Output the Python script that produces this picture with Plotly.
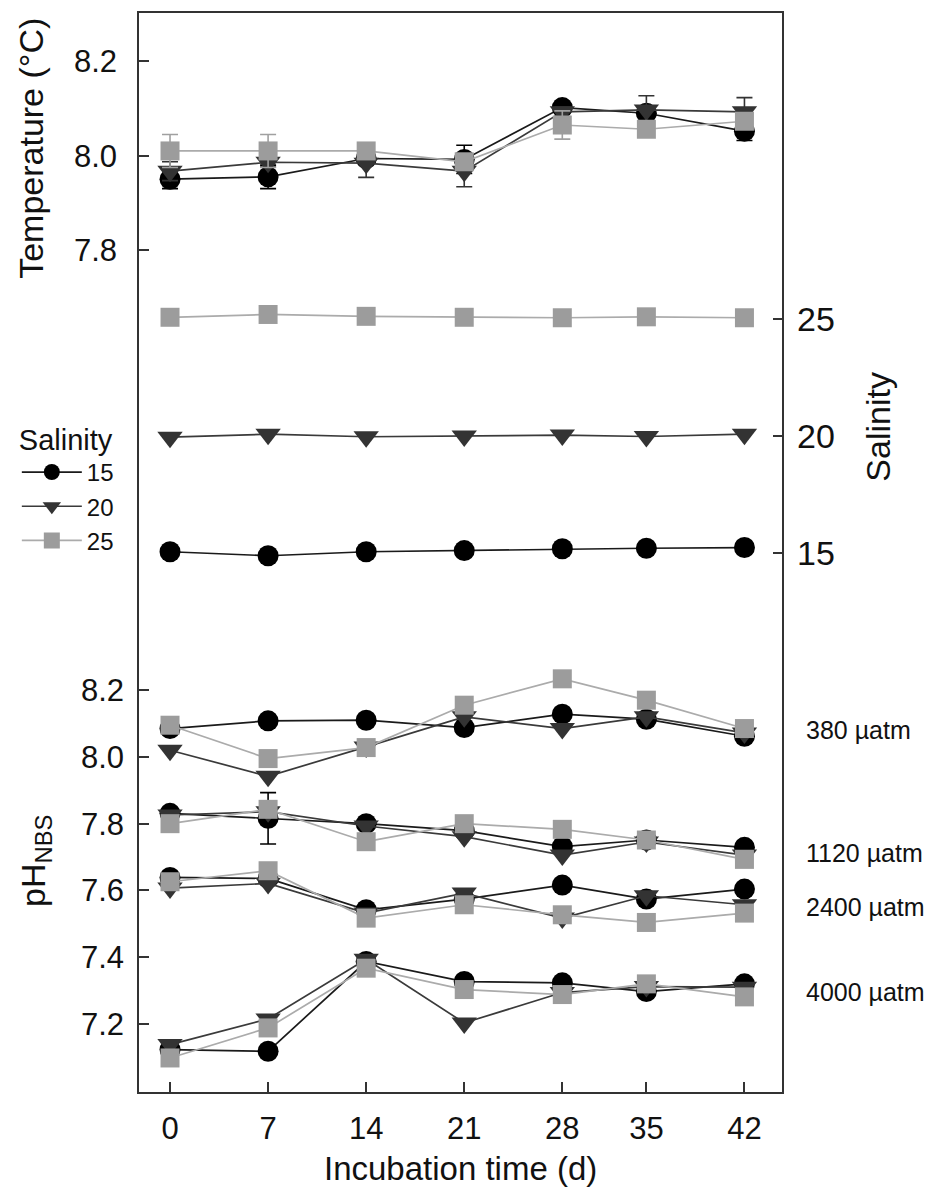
import plotly.graph_objects as go

# ---- data ----
days = [0, 7, 14, 21, 28, 34, 41]
day_labels = ["0", "7", "14", "21", "28", "35", "42"]
salinity_names = ["15", "20", "25"]

# Temperature (°C)
temp_15 = [7.950, 7.955, 7.994, 7.992, 8.102, 8.090, 8.052]
temp_20 = [7.967, 7.986, 7.984, 7.967, 8.093, 8.097, 8.093]
temp_25 = [8.010, 8.010, 8.010, 7.987, 8.065, 8.056, 8.073]
temp_err_15 = [0.020, 0.025, 0.010, 0.030, 0.010, 0.010, 0.020]
temp_err_20 = [0.020, 0.010, 0.030, 0.033, 0.010, 0.030, 0.030]
temp_err_25 = [0.035, 0.035, 0.010, 0.010, 0.030, 0.010, 0.010]

# Salinity
sal_15 = [15.05, 14.88, 15.05, 15.10, 15.18, 15.20, 15.23]
sal_20 = [19.95, 20.08, 19.97, 20.00, 20.04, 19.98, 20.08]
sal_25 = [25.08, 25.20, 25.12, 25.08, 25.06, 25.10, 25.06]

# pH (NBS) per pCO2 level
ph_380_15 = [8.085, 8.108, 8.110, 8.088, 8.128, 8.113, 8.062]
ph_380_20 = [8.020, 7.942, 8.030, 8.120, 8.085, 8.120, 8.072]
ph_380_25 = [8.095, 7.995, 8.028, 8.155, 8.234, 8.170, 8.085]
ph_1120_15 = [7.831, 7.816, 7.800, 7.779, 7.731, 7.751, 7.729]
ph_1120_20 = [7.826, 7.836, 7.793, 7.761, 7.706, 7.745, 7.706]
ph_1120_25 = [7.800, 7.843, 7.746, 7.800, 7.783, 7.751, 7.693]
ph_2400_15 = [7.639, 7.636, 7.542, 7.574, 7.616, 7.574, 7.604]
ph_2400_20 = [7.607, 7.621, 7.532, 7.592, 7.517, 7.584, 7.557]
ph_2400_25 = [7.626, 7.659, 7.517, 7.557, 7.527, 7.504, 7.532]
ph_4000_15 = [7.123, 7.118, 7.387, 7.327, 7.323, 7.297, 7.320]
ph_4000_20 = [7.138, 7.215, 7.394, 7.203, 7.294, 7.312, 7.310]
ph_4000_25 = [7.098, 7.188, 7.367, 7.303, 7.288, 7.320, 7.281]
ph_err_1120_15 = [0.0, 0.077, 0.0, 0.0, 0.0, 0.0, 0.0]

pco2_labels = ["380 µatm", "1120 µatm", "2400 µatm", "4000 µatm"]
pco2_label_ph = [8.08, 7.712, 7.551, 7.297]

temp_ticks = [7.8, 8.0, 8.2]
sal_ticks = [15, 20, 25]
ph_ticks = [7.2, 7.4, 7.6, 7.8, 8.0, 8.2]

# ---- styles ----
FONT = "Liberation Sans, Arial, sans-serif"
styles = {
    "15": dict(symbol="circle", size=21, mcolor="#000000", lcolor="#1a1a1a"),
    "20": dict(symbol="triangle-down", size=22, mcolor="#333333", lcolor="#3a3a3a"),
    "25": dict(symbol="square", size=19, mcolor="#9c9c9c", lcolor="#ababab"),
}

fig = go.Figure()


def add(y, sal, yaxis, err=None, legend=False):
    st = styles[sal]
    kw = {}
    if err is not None:
        kw["error_y"] = dict(type="data", array=err, visible=True,
                             color=st["mcolor"] if sal != "25" else "#a0a0a0",
                             thickness=1.6, width=8)
    fig.add_trace(go.Scatter(
        x=days, y=y, yaxis=yaxis, mode="lines+markers", name=sal,
        showlegend=legend, legendgroup=sal,
        line=dict(color=st["lcolor"], width=1.7),
        marker=dict(symbol=st["symbol"], size=st["size"], color=st["mcolor"],
                    line=dict(width=0)),
        **kw))


# temperature
add(temp_15, "15", "y", temp_err_15, legend=True)
add(temp_20, "20", "y", temp_err_20, legend=True)
add(temp_25, "25", "y", temp_err_25, legend=True)
# salinity
add(sal_15, "15", "y2")
add(sal_20, "20", "y2")
add(sal_25, "25", "y2")
# pH
for grp15, grp20, grp25, e15 in [
    (ph_380_15, ph_380_20, ph_380_25, None),
    (ph_1120_15, ph_1120_20, ph_1120_25, ph_err_1120_15),
    (ph_2400_15, ph_2400_20, ph_2400_25, None),
    (ph_4000_15, ph_4000_20, ph_4000_25, None),
]:
    add(grp15, "15", "y3", e15)
    add(grp20, "20", "y3")
    add(grp25, "25", "y3")

axcol = "#333333"
tickfont = dict(family=FONT, size=31, color="#111111")

fig.update_layout(
    width=948, height=1194,
    margin=dict(l=139, r=166, t=11, b=102),
    paper_bgcolor="white", plot_bgcolor="white",
    font=dict(family=FONT, color="#111111"),
    xaxis=dict(range=[-2.214, 43.68], tickvals=days, ticktext=day_labels,
               ticks="inside", ticklen=10, tickwidth=1.5, tickcolor=axcol,
               showline=True, linecolor=axcol, linewidth=1.5, mirror=True,
               showgrid=False, zeroline=False, tickfont=dict(family=FONT, size=31, color="#111111"),
               ticklabelstandoff=8),
    yaxis=dict(range=[6.0138, 8.3026], tickvals=temp_ticks, ticktext=["7.8", "8.0", "8.2"],
               ticks="inside", ticklen=10, tickwidth=1.5, tickcolor=axcol,
               showline=True, linecolor=axcol, linewidth=1.5, mirror=True,
               showgrid=False, zeroline=False, tickfont=tickfont, ticklabelstandoff=14),
    yaxis2=dict(range=[-8.06, 38.096], overlaying="y", side="right", anchor="x",
                tickvals=sal_ticks, ticks="inside", ticklen=9, tickwidth=1.5, tickcolor=axcol,
                showline=False, showgrid=False, zeroline=False,
                tickfont=dict(family=FONT, size=34, color="#111111"), ticklabelstandoff=14),
    yaxis3=dict(range=[6.996, 10.229], overlaying="y", side="left", anchor="x",
                tickvals=ph_ticks, ticktext=["7.2", "7.4", "7.6", "7.8", "8.0", "8.2"],
                ticks="inside", ticklen=10, tickwidth=1.5, tickcolor=axcol,
                showline=False, showgrid=False, zeroline=False,
                tickfont=tickfont, ticklabelstandoff=14),
    legend=dict(x=-0.19, y=0.630, xanchor="left", yanchor="top",
                bgcolor="rgba(0,0,0,0)",
                title=dict(text="Salinity", font=dict(family=FONT, size=29, color="#111111")),
                font=dict(family=FONT, size=24, color="#111111"),
                itemwidth=60,
                traceorder="normal", tracegroupgap=2),
)

# axis titles as annotations
fig.add_annotation(text="Temperature (°C)", xref="paper", yref="paper",
                   x=-0.168, y=0.875, xanchor="center", yanchor="middle",
                   textangle=-90, showarrow=False,
                   font=dict(family=FONT, size=34, color="#111111"))
fig.add_annotation(text="pH<sub>NBS</sub>", xref="paper", yref="paper",
                   x=-0.162, y=0.214, xanchor="center", yanchor="middle",
                   textangle=-90, showarrow=False,
                   font=dict(family=FONT, size=34, color="#111111"))
fig.add_annotation(text="Salinity", xref="paper", yref="paper",
                   x=1.1487, y=0.6163, xanchor="center", yanchor="middle",
                   textangle=-90, showarrow=False,
                   font=dict(family=FONT, size=34, color="#111111"))
fig.add_annotation(text="Incubation time (d)", xref="paper", yref="paper",
                   x=0.5, y=-0.0705, xanchor="center", yanchor="middle", showarrow=False,
                   font=dict(family=FONT, size=33, color="#111111"))
for lab, yv in zip(pco2_labels, pco2_label_ph):
    fig.add_annotation(text=lab, xref="paper", yref="y3", x=1.0335, y=yv,
                       xanchor="left", yanchor="middle", showarrow=False,
                       font=dict(family=FONT, size=25, color="#111111"))

fig.write_html("out.html")
